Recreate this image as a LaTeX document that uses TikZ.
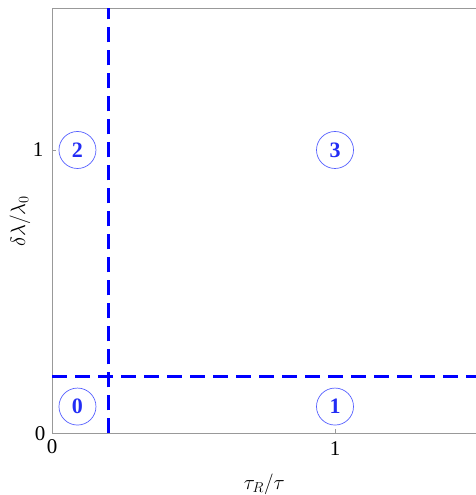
\documentclass[tikz,border=0pt]{standalone}
\usepackage{fontspec}
\setmainfont{Liberation Serif}
\definecolor{numblue}{RGB}{35,45,245}
\definecolor{ringblue}{RGB}{85,95,255}
\begin{document}
\begin{tikzpicture}[x=283pt,y=283.5pt,
  frame/.style={draw=black!40,line width=0.8pt},
  ticklab/.style={font=\fontsize{21}{24}\selectfont},
  axlab/.style={font=\fontsize{20}{24}\selectfont},
  region/.style={circle,draw=ringblue,line width=0.7pt,minimum size=37pt,inner sep=0pt,text=numblue,font=\fontsize{22}{24}\selectfont\bfseries},
  boundary/.style={draw=blue,line width=2.6pt,dash pattern=on 15pt off 8pt}]
\useasboundingbox (-52pt,-61.5pt) rectangle (424pt,433.5pt);
\coordinate (ll) at (0,0);
\coordinate (ul) at (0,1.5);
\coordinate (ur) at (1.52,1.5);
\coordinate (lr) at (1.52,0);
\draw[frame] (lr) -- (ll) -- (ul) -- (ur);
\draw[frame] (1,0) -- ++(0,4pt);
\draw[frame] (0,1) -- ++(4pt,0);
\node[ticklab,anchor=north] (x0) at (0,-3pt) {0};
\node[ticklab,anchor=north] (x1) at (1,-5pt) {1};
\node[ticklab,anchor=east] (y0) at (-3pt,0) {0};
\node[ticklab,anchor=east] (y1) at (-5pt,1) {1};
\node[axlab] (xl) at (0.75,-51pt) {$\tau_R/\tau$};
\node[axlab,rotate=90] (yl) at (-32pt,0.75) {$\delta\lambda/\lambda_0$};
\coordinate (vb) at (0.2,0);
\coordinate (vt) at (0.2,1.5);
\coordinate (hl) at (0,0.2);
\coordinate (hr) at (1.5,0.2);
\draw[boundary] (vb) -- (vt);
\draw[boundary] (hl) -- (hr);
\node[region] (r0) at (0.09,0.095) {0};
\node[region] (r1) at (1,0.095) {1};
\node[region] (r2) at (0.09,1) {2};
\node[region] (r3) at (1,1) {3};
\end{tikzpicture}
\end{document}
